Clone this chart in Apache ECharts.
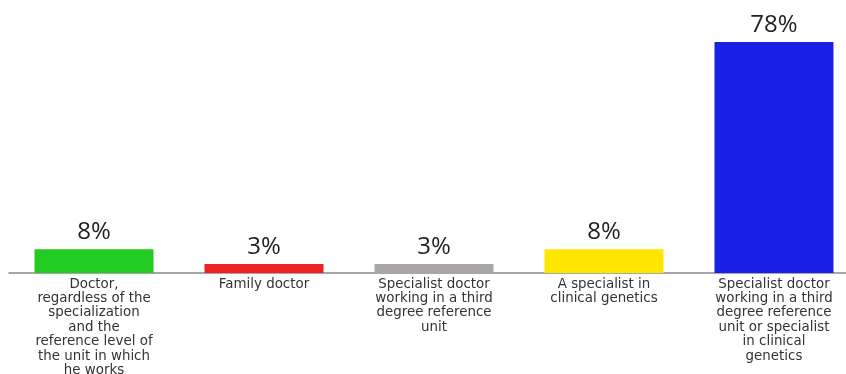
<!DOCTYPE html>
<html>
<head>
<meta charset="utf-8">
<script src="https://cdn.jsdelivr.net/npm/echarts@6/dist/echarts.min.js"></script>
<style>
  html, body { margin: 0; padding: 0; background: #fff; }
  #chart { width: 846px; height: 374px; }
</style>
</head>
<body>
<div id="chart"></div>
<script>
// Who should inform the patient: share of answers per option
const categories = [
  'Doctor,\nregardless of the\nspecialization\nand the\nreference level of\nthe unit in which\nhe works',
  'Family doctor',
  'Specialist doctor\nworking in a third\ndegree reference\nunit',
  'A specialist in\nclinical genetics',
  'Specialist doctor\nworking in a third\ndegree reference\nunit or specialist\nin clinical\ngenetics'
];
const values = [8, 3, 3, 8, 78];
const barColors = ['#22cc22', '#ee2222', '#aaa6a6', '#ffe600', '#1a22e6'];

const chart = echarts.init(document.getElementById('chart'));
chart.setOption({
  animation: false,
  grid: { left: 9, right: -13, top: 42, bottom: 101, containLabel: false, outerBoundsMode: 'none' },
  xAxis: {
    type: 'category',
    data: categories,
    axisLine: { show: true, lineStyle: { color: '#8a8a8a', width: 1.5 } },
    axisTick: { show: false },
    axisLabel: {
      interval: 0,
      margin: 4,
      color: '#333',
      fontFamily: '"DejaVu Sans", sans-serif',
      fontSize: 13.4,
      lineHeight: 14.4,
      align: 'center',
      verticalAlign: 'top'
    }
  },
  yAxis: {
    type: 'value',
    min: 0,
    max: 78,
    show: false,
    splitLine: { show: false }
  },
  series: [{
    type: 'bar',
    data: values.map((v, i) => ({ value: v, itemStyle: { color: barColors[i] } })),
    barWidth: '70%',
    label: {
      show: true,
      position: 'top',
      distance: 5,
      formatter: '{c}%',
      color: '#222',
      fontFamily: '"Open Sans", sans-serif',
      fontSize: 24
    }
  }]
});
</script>
</body>
</html>
